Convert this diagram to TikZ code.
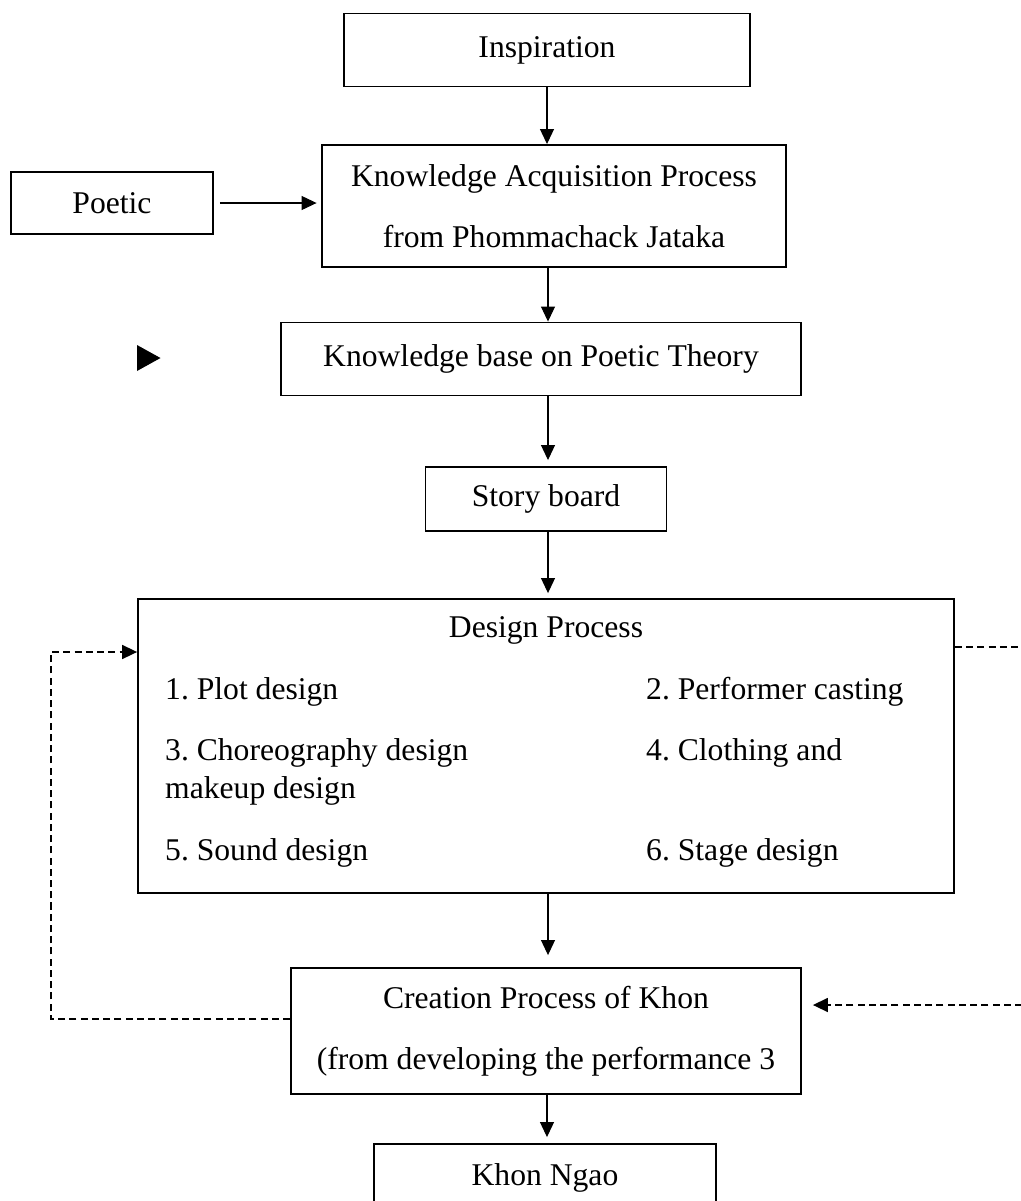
\documentclass[tikz,border=0pt]{standalone}
\usepackage{fontspec}
\setmainfont{Liberation Serif}
\usetikzlibrary{arrows.meta}
\frenchspacing
\begin{document}
\begin{tikzpicture}[x=0.02cm,y=-0.02cm,
    font=\fontsize{18}{22}\selectfont,
    box/.style={draw,line width=1.1pt,inner sep=0pt,align=center},
    arr/.style={-{Triangle[length=0.3cm,width=0.28cm]},line width=0.6pt},
    dline/.style={-{Triangle[length=0.3cm,width=0.28cm]},line width=0.9pt,dash pattern=on 4pt off 2.4pt}]
  \useasboundingbox (0,0) rectangle (1021,1201);
  \clip (0,0) rectangle (1021,1201);
  \node[box,minimum width=8.12cm,minimum height=1.46cm] (insp) at (547,50) {Inspiration};
  \node[box,minimum width=4.04cm,minimum height=1.24cm] (poetic) at (112,203) {Poetic};
  \node[box,minimum width=9.3cm,minimum height=2.44cm,font=\fontsize{18}{34.5}\selectfont] (kap) at (554,206) {Knowledge Acquisition Process\\from Phommachack Jataka};
  \node[box,minimum width=10.4cm,minimum height=1.46cm] (kbase) at (541,359) {Knowledge base on Poetic Theory};
  \node[box,minimum width=4.82cm,minimum height=1.28cm] (story) at (546,499) {Story board};
  \node[box,minimum width=16.32cm,minimum height=5.88cm] (design) at (546,746) {};
  \node (dtitle) at (546,630) {Design Process};
  \node[anchor=west] (d1) at (159,692) {1. Plot design};
  \node[anchor=west] (d2) at (640,692) {2. Performer casting};
  \node[anchor=west,align=left] (d3) at (159,772) {3. Choreography design\\makeup design};
  \node[anchor=west] (d4) at (640,753) {4. Clothing and};
  \node[anchor=west] (d5) at (159,853) {5. Sound design};
  \node[anchor=west] (d6) at (640,853) {6. Stage design};
  \node[box,minimum width=10.2cm,minimum height=2.52cm,font=\fontsize{18}{34.5}\selectfont] (creation) at (546,1031) {Creation Process of Khon\\(from developing the performance 3};
  \node[box,minimum width=6.84cm,minimum height=1.36cm] (khon) at (545,1178) {Khon Ngao};
  \fill (137,345) -- (160.5,358) -- (137,371) -- cycle;
  \draw[arr] (insp.south) -- (insp.south |- kap.north);
  \draw[arr,shorten <=0.12cm,shorten >=0.08cm] (poetic.east) -- (poetic.east -| kap.west);
  \draw[arr] (kap.south -| 548,0) -- (kbase.north -| 548,0);
  \draw[arr,shorten >=0.12cm] (kbase.south -| 548,0) -- (story.north -| 548,0);
  \draw[arr,shorten >=0.1cm] (story.south -| 548,0) -- (design.north -| 548,0);
  \draw[arr,shorten >=0.24cm] (design.south -| 548,0) -- (creation.north -| 548,0);
  \draw[arr,shorten >=0.12cm] (creation.south -| 547,0) -- (khon.north -| 547,0);
  \draw[dline] (creation.west |- 0,1019) -- (51,1019) -- (51,652) -- (design.west |- 0,652);
  \draw[dline,shorten >=0.22cm] (design.east |- 0,647) -- (1040,647) -- (1040,1005) -- (creation.east |- 0,1005);
\end{tikzpicture}
\end{document}
